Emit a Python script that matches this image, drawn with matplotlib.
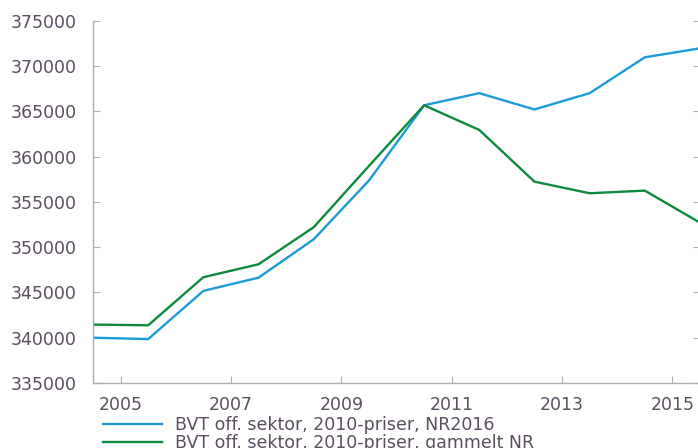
import matplotlib
matplotlib.use("Agg")
import matplotlib.pyplot as plt

# data
years = [2004.5, 2005.5, 2006.5, 2007.5, 2008.5, 2009.5,
         2010.5, 2011.5, 2012.5, 2013.5, 2014.5, 2015.5]
nr2016 = [340000, 339850, 345170, 346630, 350870, 357350,
          365660, 367000, 365200, 367000, 370960, 371950]
gammelt = [341450, 341370, 346680, 348110, 352200, 358960,
           365660, 362940, 357230, 355950, 356240, 352700]
xticks = [2005, 2007, 2009, 2011, 2013, 2015]
yticks = list(range(335000, 375001, 5000))
labels = ["BVT off. sektor, 2010-priser, NR2016",
          "BVT off. sektor, 2010-priser, gammelt NR"]

text_col = "#5c4d60"
spine_col = "#b4acb4"
blue = "#1b9bd7"
green = "#0d8a3e"

plt.rcParams["font.family"] = ["DejaVu Sans"]

fig = plt.figure(figsize=(6.98, 4.48), dpi=100)
ax = fig.add_axes([93 / 698, 1 - 383 / 448, 607 / 698, (383 - 20.7) / 448])

ax.plot(years, nr2016, color=blue, lw=1.7, label=labels[0])
ax.plot(years, gammelt, color=green, lw=1.7, label=labels[1])

ax.set_xlim(2004.5, 2015.5)
ax.set_ylim(335000, 375000)
ax.set_xticks(xticks)
ax.set_yticks(yticks)
ax.set_xticklabels([str(y) for y in xticks])
ax.set_yticklabels([str(y) for y in yticks])

ax.spines["top"].set_visible(False)
for s in ["left", "bottom", "right"]:
    ax.spines[s].set_color(spine_col)
    ax.spines[s].set_linewidth(1.0)

ax.tick_params(axis="y", direction="in", length=5, color=spine_col,
               labelsize=12.5, labelcolor=text_col, pad=12, right=True)
ax.tick_params(axis="x", direction="in", length=5, color=spine_col,
               labelsize=12.5, labelcolor=text_col, pad=9)

fig.legend(loc="upper left", bbox_to_anchor=(103 / 698, 1 - 416 / 448),
           frameon=False, fontsize=12.5, labelcolor=text_col,
           handlelength=3.4, handletextpad=0.75, labelspacing=0.0,
           borderpad=0, borderaxespad=0)

fig.savefig("out.png", dpi=100)
